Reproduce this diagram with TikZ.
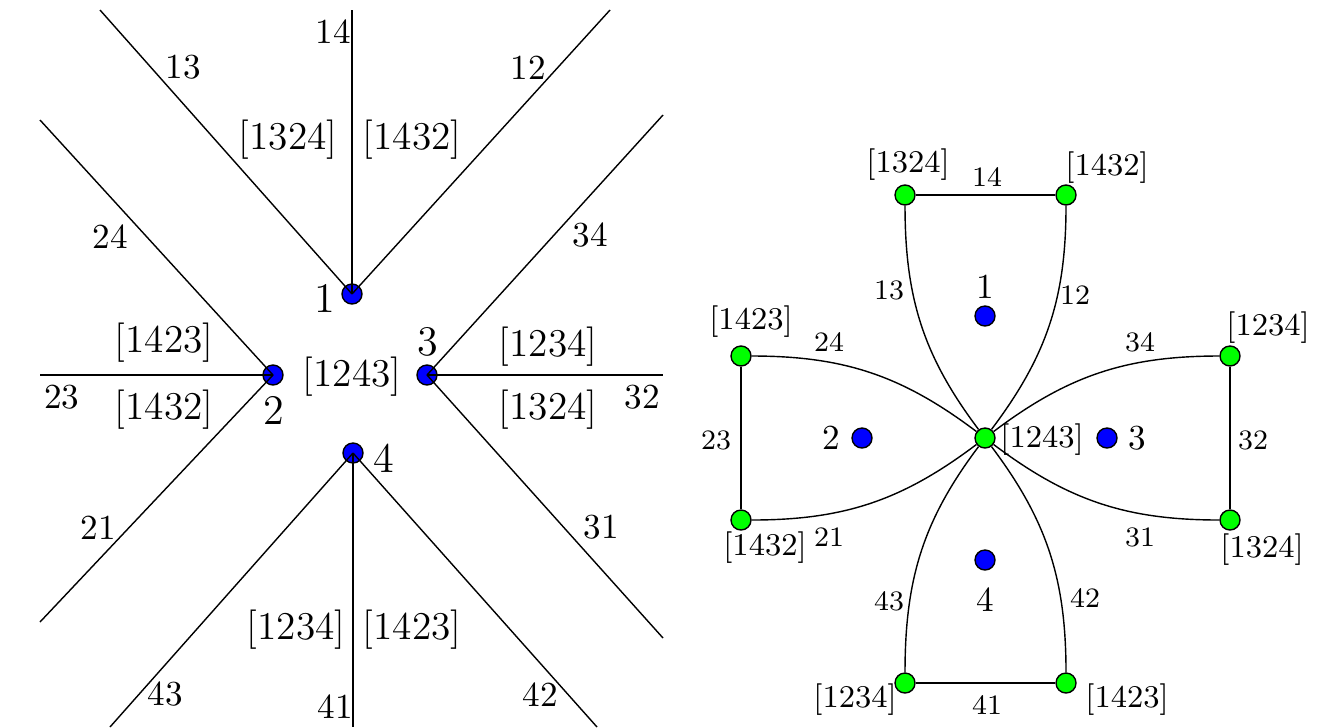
\documentclass[tikz,border=0pt]{standalone}
\usepackage{tikz}

\tikzset{
  bluedot/.style={circle,draw=black,fill=blue,inner sep=0pt,minimum size=0.2cm},
  greendot/.style={circle,draw=black,fill=green,inner sep=0pt,minimum size=0.2cm},
  cell/.style={font=\fontsize{11.2}{13}\selectfont,inner sep=1pt},
  wall/.style={font=\normalsize,inner sep=1pt},
  vlabel/.style={font=\large,inner sep=1pt},
  smallcell/.style={font=\small,inner sep=1pt},
  smallwall/.style={font=\footnotesize,inner sep=1pt}
}

\begin{document}
\begin{tikzpicture}
    \useasboundingbox (0,0) rectangle (13.26,-7.27);
    %% ---------------- left picture ----------------
    \node[bluedot] (n1) at (3.52,-2.94) {};
    \node[bluedot] (n2) at (2.73,-3.75) {};
    \node[bluedot] (n3) at (4.27,-3.75) {};
    \node[bluedot] (n4) at (3.53,-4.53) {};
    %% free ends
    \coordinate (e13) at (1.00,-0.10);
    \coordinate (e14) at (3.52,-0.10);
    \coordinate (e12) at (6.10,-0.10);
    \coordinate (e24) at (0.40,-1.20);
    \coordinate (e23) at (0.40,-3.75);
    \coordinate (e21) at (0.40,-6.22);
    \coordinate (e34) at (6.63,-1.15);
    \coordinate (e32) at (6.63,-3.75);
    \coordinate (e31) at (6.63,-6.38);
    \coordinate (e43) at (1.10,-7.27);
    \coordinate (e41) at (3.53,-7.27);
    \coordinate (e42) at (5.97,-7.27);
    %% walls
    \draw (n1.center) -- (e13);
    \draw (n1.center) -- (e14);
    \draw (n1.center) -- (e12);
    \draw (n2.center) -- (e24);
    \draw (n2.center) -- (e23);
    \draw (n2.center) -- (e21);
    \draw (n3.center) -- (e34);
    \draw (n3.center) -- (e32);
    \draw (n3.center) -- (e31);
    \draw (n4.center) -- (e43);
    \draw (n4.center) -- (e41);
    \draw (n4.center) -- (e42);
    %% vertex labels
    \node[vlabel] (t1) at (3.25,-2.98) {1};
    \node[vlabel] (t2) at (2.74,-4.10) {2};
    \node[vlabel] (t3) at (4.28,-3.42) {3};
    \node[vlabel] (t4) at (3.84,-4.58) {4};
    %% wall labels
    \node[wall] (w14) at (3.33,-0.32) {14};
    \node[wall] (w13) at (1.83,-0.67) {13};
    \node[wall] (w12) at (5.28,-0.68) {12};
    \node[wall] (w24) at (1.10,-2.37) {24};
    \node[wall] (w34) at (5.90,-2.35) {34};
    \node[wall] (w23) at (0.62,-3.97) {23};
    \node[wall] (w32) at (6.42,-3.97) {32};
    \node[wall] (w21) at (0.98,-5.28) {21};
    \node[wall] (w31) at (6.01,-5.27) {31};
    \node[wall] (w43) at (1.65,-6.94) {43};
    \node[wall] (w42) at (5.40,-6.95) {42};
    \node[wall] (w41) at (3.35,-7.07) {41};
    %% cell labels
    \node[cell] (c1a) at (2.88,-1.40) {[1324]};
    \node[cell] (c1b) at (4.12,-1.40) {[1432]};
    \node[cell] (c2a) at (1.64,-3.43) {[1423]};
    \node[cell] (c2b) at (1.64,-4.10) {[1432]};
    \node[cell] (c0) at (3.52,-3.77) {[1243]};
    \node[cell] (c3a) at (5.48,-3.47) {[1234]};
    \node[cell] (c3b) at (5.48,-4.10) {[1324]};
    \node[cell] (c4a) at (2.96,-6.30) {[1234]};
    \node[cell] (c4b) at (4.12,-6.30) {[1423]};
    %% ---------------- right picture ----------------
    \node[greendot] (gc) at (9.85,-4.38) {};
    \node[greendot] (g13) at (9.05,-1.95) {};
    \node[greendot] (g12) at (10.66,-1.95) {};
    \node[greendot] (g24) at (7.41,-3.56) {};
    \node[greendot] (g21) at (7.41,-5.20) {};
    \node[greendot] (g34) at (12.30,-3.56) {};
    \node[greendot] (g31) at (12.30,-5.20) {};
    \node[greendot] (g43) at (9.05,-6.83) {};
    \node[greendot] (g42) at (10.66,-6.83) {};
    \node[bluedot] (b1) at (9.85,-3.16) {};
    \node[bluedot] (b2) at (8.62,-4.38) {};
    \node[bluedot] (b3) at (11.07,-4.38) {};
    \node[bluedot] (b4) at (9.85,-5.60) {};
    %% straight edges
    \draw (g13) -- (g12);
    \draw (g24) -- (g21);
    \draw (g34) -- (g31);
    \draw (g43) -- (g42);
    %% curved edges
    \draw (g13) to[out=-90,in=127] (gc);
    \draw (g12) to[out=-90,in=53] (gc);
    \draw (g24) to[out=0,in=143] (gc);
    \draw (g21) to[out=0,in=217] (gc);
    \draw (g34) to[out=180,in=37] (gc);
    \draw (g31) to[out=180,in=-37] (gc);
    \draw (g43) to[out=90,in=233] (gc);
    \draw (g42) to[out=90,in=-53] (gc);
    %% labels
    \node[wall] (s1) at (9.85,-2.87) {1};
    \node[wall] (s2) at (8.31,-4.38) {2};
    \node[wall] (s3) at (11.37,-4.38) {3};
    \node[wall] (s4) at (9.85,-6.00) {4};
    \node[smallcell] (r13) at (9.08,-1.65) {[1324]};
    \node[smallcell] (r12) at (11.07,-1.68) {[1432]};
    \node[smallcell] (r24) at (7.51,-3.22) {[1423]};
    \node[smallcell] (r34) at (12.68,-3.28) {[1234]};
    \node[smallcell] (r21) at (7.65,-5.48) {[1432]};
    \node[smallcell] (r31) at (12.62,-5.50) {[1324]};
    \node[smallcell] (r43) at (8.55,-7.00) {[1234]};
    \node[smallcell] (r42) at (11.27,-7.00) {[1423]};
    \node[smallcell] (rc) at (10.42,-4.40) {[1243]};
    \node[smallwall] (m14) at (9.87,-1.77) {14};
    \node[smallwall] (m13) at (8.89,-2.90) {13};
    \node[smallwall] (m12) at (10.75,-2.95) {12};
    \node[smallwall] (m24) at (8.29,-3.42) {24};
    \node[smallwall] (m34) at (11.40,-3.42) {34};
    \node[smallwall] (m23) at (7.16,-4.40) {23};
    \node[smallwall] (m32) at (12.53,-4.40) {32};
    \node[smallwall] (m21) at (8.29,-5.37) {21};
    \node[smallwall] (m31) at (11.40,-5.37) {31};
    \node[smallwall] (m43) at (8.89,-6.01) {43};
    \node[smallwall] (m42) at (10.85,-5.98) {42};
    \node[smallwall] (m41) at (9.87,-7.05) {41};
\end{tikzpicture}
\end{document}
